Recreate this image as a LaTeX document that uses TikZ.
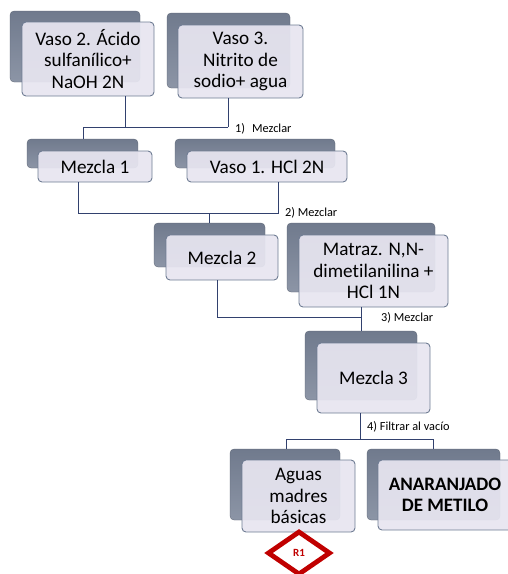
\documentclass[tikz,border=0pt]{standalone}
\usepackage{fontspec}
\setmainfont{Carlito}[Ligatures=NoCommon]
\usetikzlibrary{shapes.geometric}
\definecolor{shadowtop}{HTML}{707A8D}
\definecolor{shadowbot}{HTML}{8C95A6}
\definecolor{frontfill}{HTML}{E7E5F0}
\definecolor{frontedge}{HTML}{6F7C93}
\definecolor{linkblue}{HTML}{32416E}
\definecolor{rojo}{HTML}{C00000}
\tikzset{
  backbox/.style={rectangle, rounded corners=4pt, top color=shadowtop, bottom color=shadowbot,
    draw=shadowtop!80!black, line width=0.3pt, inner sep=0pt},
  frontbox/.style={rectangle, rounded corners=4pt, fill=frontfill, fill opacity=0.93,
    draw=frontedge, line width=0.9pt, text opacity=1, text=black, inner sep=0pt,
    align=center, font=\fontsize{19.2}{21.5}\selectfont},
  link/.style={draw=linkblue, line width=0.7pt},
  steplabel/.style={font=\fontsize{12.3}{14}\selectfont, anchor=west, inner sep=1pt},
  mark diamond/.style={diamond, draw=rojo, line width=4.8pt, fill=white, inner sep=0pt,
    minimum width=63pt, minimum height=44pt, text=rojo, font=\bfseries\fontsize{11}{13}\selectfont}
}
\begin{document}
\begin{tikzpicture}[x=1pt,y=-1pt]
\useasboundingbox (0,0) rectangle (508,574);

% shadow blocks
\node[backbox, minimum width=130pt, minimum height=71pt] (s1) at (75,46.5) {};
\node[backbox, minimum width=123pt, minimum height=75pt] (s2) at (228.5,50.5) {};
\node[backbox, minimum width=111pt, minimum height=29pt] (s3) at (82.5,153.5) {};
\node[backbox, minimum width=160pt, minimum height=29pt] (s4) at (255,153.5) {};
\node[backbox, minimum width=111pt, minimum height=44pt] (s5) at (209.5,245) {};
\node[backbox, minimum width=148pt, minimum height=69pt] (s6) at (361,257.5) {};
\node[backbox, minimum width=112pt, minimum height=69pt] (s7) at (361,365.5) {};
\node[backbox, minimum width=110pt, minimum height=71pt] (s8) at (285,484.5) {};
\node[backbox, minimum width=133pt, minimum height=71pt] (s9) at (433.5,484.5) {};

% front blocks
\node[frontbox, minimum width=132pt, minimum height=74pt] (b1) at (88,59)
  {Vaso 2. Ácido\\sulfanílico+\\NaOH 2N};
\node[frontbox, minimum width=125pt, minimum height=73pt] (b2) at (240.5,61.5)
  {Vaso 3.\\Nitrito de\\sodio+ agua};
\node[frontbox, minimum width=114pt, minimum height=31pt] (b3) at (95,166.5) {Mezcla 1};
\node[frontbox, minimum width=160pt, minimum height=31pt] (b4) at (267,166.5) {Vaso 1. HCl 2N};
\node[frontbox, minimum width=112pt, minimum height=45pt] (b5) at (222,257.5) {Mezcla 2};
\node[frontbox, minimum width=149pt, minimum height=72pt] (b6) at (373.5,271)
  {Matraz. N,N-\\dimetilanilina +\\HCl 1N};
\node[frontbox, minimum width=113pt, minimum height=70pt] (b7) at (373.5,378) {Mezcla 3};
\node[frontbox, minimum width=113pt, minimum height=72pt] (b8) at (298.5,496)
  {Aguas\\madres\\básicas};
\node[frontbox, minimum width=134pt, minimum height=70pt, font=\bfseries\fontsize{19}{21.5}\selectfont]
  (b9) at (445,495) {ANARANJADO\\DE METILO};

% junction points of the connectors
\coordinate (j1a) at (125,127);
\coordinate (j1b) at (228,127);
\coordinate (j1c) at (83,127);
\coordinate (j2a) at (78,213);
\coordinate (j2b) at (278,213);
\coordinate (j2c) at (209,213);
\coordinate (j3a) at (217,317);
\coordinate (j3b) at (361,317);
\coordinate (j4a) at (360,439);
\coordinate (j4b) at (286,439);
\coordinate (j4c) at (433,439);

% step 1
\draw[link] (b1.south -| j1a) -- (j1a);
\draw[link] (b2.south -| j1b) -- (j1b);
\draw[link] (j1b) -- (j1c) -- (s3.north -| j1c);
\node[steplabel] (l1) at (234,129) {1)\hspace{7pt}Mezclar};

% step 2
\draw[link] (b3.south -| j2a) -- (j2a) -- (j2b) -- (b4.south -| j2b);
\draw[link] (j2c) -- (s5.north -| j2c);
\node[steplabel] (l2) at (284,213) {2) Mezclar};

% step 3
\draw[link] (b5.south -| j3a) -- (j3a) -- (j3b);
\draw[link] (b6.south -| j3b) -- (s7.north -| j3b);
\node[steplabel] (l3) at (380,318) {3) Mezclar};

% step 4
\draw[link] (b7.south -| j4a) -- (j4a);
\draw[link] (s8.north -| j4b) -- (j4b) -- (j4c) -- (s9.north -| j4c);
\node[steplabel] (l4) at (366,427) {4) Filtrar al vacío};

% residue mark
\node[mark diamond] (r1) at (299,553) {R1};
\end{tikzpicture}
\end{document}
